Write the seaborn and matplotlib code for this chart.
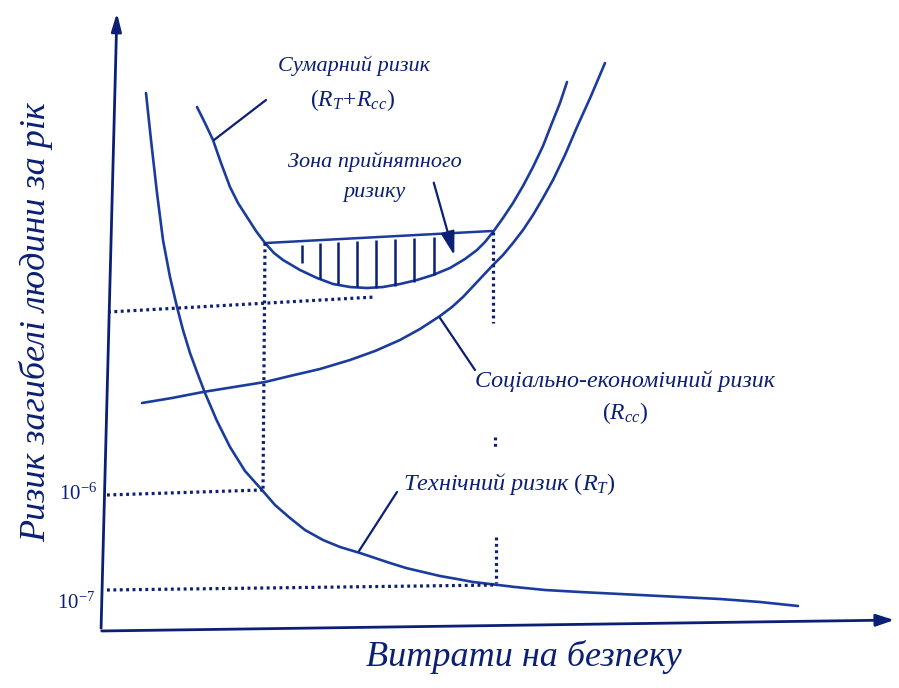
import numpy as np
import pandas as pd
import matplotlib
matplotlib.use("Agg")
import matplotlib.pyplot as plt
import seaborn as sns

# Curves (picture coords, y grows downwards)
tech_x = [146, 151, 157, 163, 170, 177, 183, 190, 197, 205, 217, 230, 245, 262, 275, 290,
          305, 323, 340, 360, 375, 390, 406, 423, 440, 457, 473, 490, 515, 545, 580, 620,
          660, 720, 760, 798]
tech_y = [93, 140, 193, 240, 277, 307, 330, 353, 372, 393, 421, 447, 471, 490, 505, 518,
          530, 540, 547, 553, 558, 563, 568, 572, 576, 579, 582, 584, 587, 590, 592, 594,
          596, 599, 602, 606]

socio_x = [142, 172, 203, 234, 265, 290, 320, 350, 375, 400, 420, 440, 452, 463, 478, 493,
           503, 513, 523, 533, 543, 553, 565, 577, 591, 605]
socio_y = [403, 398, 392, 387, 382, 376, 369, 360, 351, 340, 329, 316, 307, 297, 281, 265,
           255, 243, 230, 215, 198, 180, 155, 127, 96, 63]

total_x = [197, 205, 213, 221, 230, 238, 247, 256, 265, 274, 283, 300, 317, 333, 350, 367,
           383, 400, 417, 433, 450, 465, 477, 485, 493, 503, 513, 523, 533, 543, 552, 560, 567]
total_y = [107, 123, 140, 163, 187, 203, 217, 231, 243, 253, 260, 270, 278, 284, 287, 288,
           287, 284, 280, 275, 268, 259, 250, 242, 232, 218, 203, 186, 167, 146, 123, 103, 82]

# acceptable risk zone: top edge and hatching
zone_x = [266, 492]
zone_y = [243, 231]
hatch_x = [302, 320, 338, 357, 376, 395, 414, 434]
hatch_top = [245, 243, 242, 241, 240, 239, 238, 237]
hatch_bottom = [263, 279, 284, 287, 288, 286, 282, 275]

# dotted guide lines (x0, y0, x1, y1)
guides = [
    (108, 312, 375, 297),
    (265, 243, 263, 490),
    (107, 495, 262, 490),
    (107, 590, 497, 585),
    (493, 232, 493, 323),
    (495, 437, 495, 447),
    (496, 537, 496, 583),
]

LINE = "#1b3c9c"
TEXT = "#0b1f74"

sns.set_theme(style="white")
plt.rcParams["font.family"] = ["Liberation Serif", "DejaVu Serif"]
plt.rcParams["mathtext.fontset"] = "custom"
plt.rcParams["mathtext.rm"] = "Liberation Serif"
plt.rcParams["mathtext.it"] = "Liberation Serif:italic"

fig = plt.figure(figsize=(8.99, 6.88), dpi=100)
ax = fig.add_axes([0, 0, 1, 1])

curves = pd.concat([
    pd.DataFrame({"x": tech_x, "y": tech_y, "curve": "tech"}),
    pd.DataFrame({"x": socio_x, "y": socio_y, "curve": "socio"}),
    pd.DataFrame({"x": total_x, "y": total_y, "curve": "total"}),
])
sns.lineplot(data=curves, x="x", y="y", units="curve", estimator=None, sort=False,
             color=LINE, lw=1.9, ax=ax, legend=False)

sns.lineplot(x=zone_x, y=zone_y, color=LINE, lw=1.8, ax=ax)
ax.vlines(hatch_x, hatch_top, hatch_bottom, color=TEXT, lw=1.8)

for x0, y0, x1, y1 in guides:
    ax.plot([x0, x1], [y0, y1], color=TEXT, lw=2.3, linestyle=(0, (0.9, 1.1)),
            dash_capstyle="butt")

# axes with arrows
ax.annotate("", xy=(117, 10), xytext=(101, 631),
            arrowprops=dict(arrowstyle="-|>,head_length=0.9,head_width=0.25", color=TEXT, lw=2))
ax.annotate("", xy=(897, 620), xytext=(99, 631),
            arrowprops=dict(arrowstyle="-|>,head_length=0.9,head_width=0.3", color=TEXT, lw=2))

# leader lines
leaders = [(266, 100, 214, 140), (397, 492, 359, 551), (440, 318, 475, 370)]
for x0, y0, x1, y1 in leaders:
    ax.plot([x0, x1], [y0, y1], color=TEXT, lw=1.6)
ax.annotate("", xy=(455, 258), xytext=(433, 180),
            arrowprops=dict(arrowstyle="-|>,head_length=1.2,head_width=0.35", color=TEXT, lw=1.6))

# labels
kw = dict(color=TEXT, style="italic", fontsize=16)
ax.text(354, 66, "Сумарний ризик", ha="center", va="center", **kw)
ax.text(353, 100, r"$(R_T\!+\!R_{cc})$", ha="center", va="center", color=TEXT, fontsize=17)
ax.text(375, 162, "Зона прийнятного", ha="center", va="center", **kw)
ax.text(374, 193, "ризику", ha="center", va="center", **kw)
ax.text(625, 381, "Соціально-економічний ризик", ha="center", va="center",
        color=TEXT, style="italic", fontsize=17.3)
ax.text(625, 413, r"$(R_{cc})$", ha="center", va="center", color=TEXT, fontsize=17)
ax.text(509, 484, r"Технічний ризик $(R_T)$", ha="center", va="center",
        color=TEXT, style="italic", fontsize=17.5)

ax.text(78, 494, r"$10^{-6}$", ha="center", va="center", color=TEXT, fontsize=15)
ax.text(76, 603, r"$10^{-7}$", ha="center", va="center", color=TEXT, fontsize=15)

ax.text(36, 322, "Ризик загибелі людини за рік", rotation=90, ha="center", va="center",
        color=TEXT, style="italic", fontsize=26)
ax.text(524, 657, "Витрати на безпеку", ha="center", va="center",
        color=TEXT, style="italic", fontsize=26)

ax.set_xlim(0, 899)
ax.set_ylim(688, 0)
ax.axis("off")

fig.savefig("out.png", dpi=100)
